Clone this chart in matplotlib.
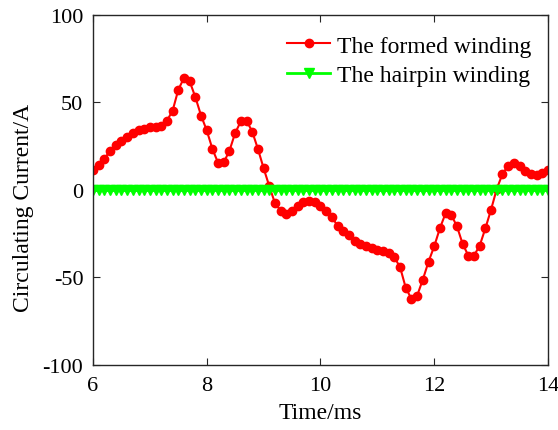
import numpy as np
import matplotlib.pyplot as plt

# Sampling instants (ms), 0.1 ms step
time_ms = np.round(np.arange(6.0, 14.0001, 0.1), 1)

# Circulating current of the formed winding (A)
formed = [
    11.6, 14.3, 17.7, 22.5, 25.7, 28.0, 30.5, 32.5, 34.0, 35.0,
    35.8, 36.0, 36.8, 39.6, 45.3, 57.3, 64.0, 62.0, 53.0, 42.5,
    34.0, 23.4, 15.4, 15.8, 22.5, 32.6, 39.2, 39.6, 33.3, 23.4,
    12.4, 2.1, -7.6, -11.8, -13.7, -11.8, -9.0, -7.0, -6.5, -7.0,
    -9.0, -11.8, -15.6, -20.4, -23.3, -26.0, -29.0, -30.9, -32.2, -33.3,
    -34.1, -34.7, -36.0, -38.5, -44.2, -56.0, -62.3, -60.4, -51.2, -41.0,
    -32.2, -21.9, -13.3, -14.3, -20.8, -30.9, -37.5, -37.5, -31.8, -21.9,
    -11.2, 0.6, 9.1, 13.9, 15.2, 13.9, 11.0, 9.1, 8.6, 9.7,
    11.6,
]

# Circulating current of the hairpin winding (A)
hairpin = [0.0] * len(time_ms)

plt.rcParams['font.family'] = ['Liberation Serif', 'DejaVu Serif']
plt.rcParams['axes.unicode_minus'] = False

fig = plt.figure(figsize=(5.58, 4.31), dpi=100)
ax = fig.add_axes([0.1667, 0.151, 0.8153, 0.812])

ax.plot(time_ms, formed, color='#ff0000', lw=1.5, marker='o', ms=6,
        label='The formed winding')
ax.plot(time_ms, hairpin, color='#00ff00', lw=2, marker='v', ms=7,
        label='The hairpin winding')

ax.set_xlim(6, 14)
ax.set_ylim(-100, 100)
ax.set_xticks([6, 8, 10, 12, 14])
ax.set_yticks([-100, -50, 0, 50, 100])
ax.set_xlabel('Time/ms', fontsize=17)
ax.set_ylabel('Circulating Current/A', fontsize=17)
ax.xaxis.set_label_coords(0.5, -0.105)
ax.yaxis.set_label_coords(-0.13, 0.45)

ax.tick_params(direction='in', top=True, right=True, length=5,
               width=0.8, color='#262626', labelsize=16)
ax.tick_params(axis='x', pad=8)
ax.tick_params(axis='y', pad=7)
for s in ax.spines.values():
    s.set_color('#262626')
    s.set_linewidth(1.0)

ax.legend(loc='upper right', bbox_to_anchor=(1.0, 0.99), frameon=False,
          fontsize=17, handlelength=1.8, handletextpad=0.3,
          labelspacing=0.35, borderaxespad=0.3)

fig.savefig('out.png', dpi=100)
plt.close(fig)
